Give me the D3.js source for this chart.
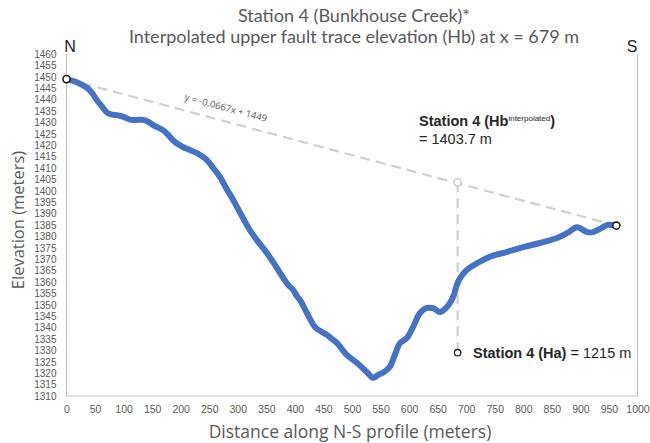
<!DOCTYPE html>
<html><head><meta charset="utf-8">
<script src="https://cdn.jsdelivr.net/npm/d3@7"></script>
<style>body{margin:0;background:#fff}svg{display:block}text{font-family:"Open Sans","Lato",sans-serif}</style>
</head><body><svg id="c" width="650" height="443"></svg>
<script>
// profile data (distance m, elevation m)
const distance = [0,18,36,45,53,62,71,80,88,100,111,122,134,143,151,160,169,178,186,195,204,216,228,237,246,257,269,280,292,306,321,336,351,365,379,389,397,404,409,421,435,446,456,465,474,491,509,526,537,546,554,566,575,584,596,607,619,631,643,654,666,672,678,684,690,701,729,745,772,800,829,859,877,894,912,922,935,947,962];
const elevation = [1449,1447.6,1445.1,1442.8,1439.8,1437,1434.3,1433.4,1433.2,1432.4,1431.2,1431.1,1431.1,1430.3,1428.9,1427.8,1426.6,1424.5,1422.3,1420.5,1419.2,1417.9,1416.6,1415.2,1413.5,1410,1406,1401,1396,1389.5,1382.8,1377.5,1372.7,1367.5,1362,1358.5,1356.5,1353.6,1352.1,1346.4,1340.3,1338.3,1336.8,1335,1333.2,1328,1324.5,1320.5,1318,1319.3,1320.2,1322.7,1328,1333.2,1335.4,1340.3,1346.4,1348.6,1348.4,1346.8,1349,1351,1354,1359,1362,1365.3,1369.6,1371.4,1373.2,1375.3,1377.1,1379.3,1381.5,1384,1381.9,1381.9,1383.4,1385,1384.8];
const trendX = [0, 963];
const trendIntercept = 1449, trendSlope = -0.0667;
const hbPoint = {x: 685, y: 1403.7};
const haPoint = {x: 685, y: 1329};
const xTicks = d3.range(0, 1001, 50);
const yTicks = d3.range(1310, 1461, 5);

const svg = d3.select("#c");
const x = d3.scaleLinear().domain([0, 1000]).range([66.5, 637.5]);
const y = d3.scaleLinear().domain([1310, 1460]).range([396, 54]);
const grey = "#595959", axisCol = "#bfbfbf";

// axes lines
svg.append("line").attr("x1", x(0)).attr("x2", x(0)).attr("y1", y(1460)).attr("y2", y(1310)).attr("stroke", axisCol);
svg.append("line").attr("x1", x(1000)).attr("x2", x(1000)).attr("y1", y(1460)).attr("y2", y(1310)).attr("stroke", axisCol);
svg.append("line").attr("x1", x(0)).attr("x2", x(1000)).attr("y1", y(1310)).attr("y2", y(1310)).attr("stroke", axisCol);

// tick labels
const tickFont = "'Liberation Sans Narrow','Liberation Sans',sans-serif";
const yax = d3.axisLeft(y).tickValues(yTicks).tickSize(0).tickPadding(10).tickFormat(d3.format("d"));
const gy = svg.append("g").attr("transform", `translate(${x(0)},0)`).call(yax);
gy.select(".domain").remove();
gy.selectAll("text").attr("fill", grey).style("font-size", "10px").style("font-family", tickFont);
const xax = d3.axisBottom(x).tickValues(xTicks).tickSize(0).tickPadding(10).tickFormat(d3.format("d"));
const gx = svg.append("g").attr("transform", `translate(0,${y(1310)})`).call(xax);
gx.select(".domain").remove();
gx.selectAll("text").attr("fill", grey).style("font-size", "10.5px").style("font-family", tickFont);

// trendline
svg.append("line")
  .attr("x1", x(trendX[0])).attr("y1", y(trendIntercept + trendSlope * trendX[0]))
  .attr("x2", x(trendX[1])).attr("y2", y(trendIntercept + trendSlope * trendX[1]))
  .attr("stroke", "#d0d0d0").attr("stroke-width", 2.2).attr("stroke-dasharray", "10,6");
// vertical dashed line
svg.append("line").attr("x1", x(hbPoint.x)).attr("x2", x(haPoint.x))
  .attr("y1", y(hbPoint.y)).attr("y2", y(haPoint.y))
  .attr("stroke", "#d0d0d0").attr("stroke-width", 2.2).attr("stroke-dasharray", "10,6");

// profile line
const line = d3.line().x((d, i) => x(distance[i])).y((d, i) => y(elevation[i])).curve(d3.curveCatmullRom.alpha(0.5));
svg.append("path").datum(distance).attr("d", line).attr("fill", "none")
  .attr("stroke", "#4472c4").attr("stroke-width", 6).attr("stroke-linejoin", "round").attr("stroke-linecap", "round");

// markers
svg.append("circle").attr("cx", x(hbPoint.x)).attr("cy", y(hbPoint.y)).attr("r", 3.6)
  .attr("fill", "#fff").attr("stroke", "#cfcfcf").attr("stroke-width", 1.6);
svg.append("circle").attr("cx", x(haPoint.x)).attr("cy", y(haPoint.y)).attr("r", 3.2)
  .attr("fill", "#fff").attr("stroke", "#222").attr("stroke-width", 1.3);
[0, 1].forEach(i => {
  const xv = trendX[i];
  svg.append("circle").attr("cx", x(xv)).attr("cy", y(trendIntercept + trendSlope * xv)).attr("r", 3.6)
    .attr("fill", "#fff").attr("stroke", "#111").attr("stroke-width", 1.5);
});

// equation label
const ex = 225, ey = 111;
svg.append("text").attr("transform", `translate(${ex},${ey}) rotate(15)`).attr("text-anchor", "middle")
  .attr("fill", grey).style("font-size", "9.5px").text("y = -0.0667x + 1449");

// titles
svg.append("text").attr("x", 354).attr("y", 21.5).attr("text-anchor", "middle").attr("fill", grey)
  .style("font-size", "18px").style("font-family", "Lato").text("Station 4 (Bunkhouse Creek)*");
svg.append("text").attr("x", 354).attr("y", 43).attr("text-anchor", "middle").attr("fill", grey)
  .style("font-size", "18px").style("font-family", "Lato").text("Interpolated upper fault trace elevation (Hb) at x = 679 m");
svg.append("text").attr("x", 70).attr("y", 52).attr("text-anchor", "middle").attr("fill", "#222")
  .style("font-size", "16px").style("font-family", "Liberation Sans").text("N");
svg.append("text").attr("x", 632).attr("y", 52).attr("text-anchor", "middle").attr("fill", "#222")
  .style("font-size", "16px").style("font-family", "Liberation Sans").text("S");

// axis titles
svg.append("text").attr("transform", "translate(24,220) rotate(-90)").attr("text-anchor", "middle").attr("fill", grey)
  .style("font-size", "16.5px").text("Elevation (meters)");
svg.append("text").attr("x", 350).attr("y", 438).attr("text-anchor", "middle").attr("fill", grey)
  .style("font-size", "17.5px").text("Distance along N-S profile (meters)");

// annotations
const a1 = svg.append("text").attr("x", 419).attr("y", 126).attr("fill", "#262626")
  .style("font-family", "Liberation Sans").style("font-size", "14.5px").style("font-weight", "bold");
a1.append("tspan").text("Station 4 (Hb");
a1.append("tspan").attr("dy", -5).style("font-size", "8px").style("font-weight", "normal").text("interpolated");
a1.append("tspan").attr("dy", 5).text(")");
svg.append("text").attr("x", 419).attr("y", 144).attr("fill", "#262626")
  .style("font-family", "Liberation Sans").style("font-size", "14.5px").text("= 1403.7 m");
const a2 = svg.append("text").attr("x", 473).attr("y", 358).attr("fill", "#262626")
  .style("font-family", "Liberation Sans").style("font-size", "14.5px");
a2.append("tspan").style("font-weight", "bold").text("Station 4 (Ha)");
a2.append("tspan").text(" = 1215 m");
</script></body></html>
